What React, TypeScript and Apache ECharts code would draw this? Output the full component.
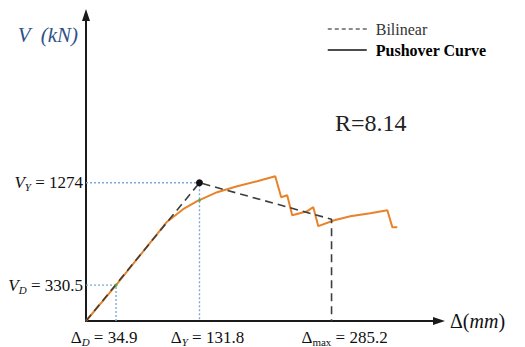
import React, { useEffect, useRef } from 'react';
import * as echarts from 'echarts';

// Pushover curve (displacement in mm, base shear in kN)
const dispX = [0, 34.9, 94.2, 112.8, 129.1, 152.3, 175.6, 198.8, 219.8, 226.7, 233.7, 239.5, 257.0, 264.0, 269.8, 288.4, 307.0, 330.2, 350.0, 355.8, 361.6];
const shearV = [0, 330.5, 915, 1030, 1104, 1187, 1242, 1288, 1334, 1141, 1159, 975, 1012, 1049, 874, 929, 966, 994, 1021, 865, 865];

// Bilinear idealisation
const deltaD = 34.9;
const deltaY = 131.8;
const deltaMax = 285.2;
const VD = 330.5;
const VY = 1274;
const VEnd = 938;
const Rfactor = 8.14;

// small markers where the curve crosses the guides
const markerX = [34.9, 131.8];
const markerV = [330.5, 1112];

const FONT = '"Liberation Serif", "DejaVu Serif", serif';

export default function App() {
  const ref = useRef<HTMLDivElement>(null);
  useEffect(() => {
    document.body.style.margin = '0';
    if (!ref.current) return;
    const chart = echarts.init(ref.current, undefined, { renderer: 'svg' });

    const near = (a: number, b: number) => Math.abs(a - b) < 1e-6;
    const xFmt = (v: number) => {
      if (near(v, deltaD)) return `{m|Δ}{si|D}{m| = ${deltaD}}{sa|\u00a0}`;
      if (near(v, deltaY)) return `{sb|\u00a0}{m|Δ}{si|Y}{m| = ${deltaY}}`;
      if (near(v, deltaMax)) return `{sc|\u00a0}{m|Δ}{sr|max}{m| = ${deltaMax}}`;
      return '';
    };
    const yFmt = (v: number) => {
      if (near(v, VD)) return `{mi|V}{si|D}{m| = ${VD}}`;
      if (near(v, VY)) return `{mi|V}{si|Y}{m| = ${VY}}`;
      return '';
    };
    const rich = {
      m: { fontFamily: FONT, fontSize: 17, color: '#111', lineHeight: 20 },
      mi: { fontFamily: FONT, fontSize: 17, color: '#111', lineHeight: 20, fontStyle: 'italic' },
      si: { fontFamily: FONT, fontSize: 11, color: '#111', lineHeight: 8, verticalAlign: 'bottom', fontStyle: 'italic' },
      sr: { fontFamily: FONT, fontSize: 11, color: '#111', lineHeight: 8, verticalAlign: 'bottom' },
      sa: { width: 24, fontSize: 10 },
      sb: { width: 16, fontSize: 10 },
      sc: { width: 26, fontSize: 10 },
    };

    const axisLine = {
      show: true,
      symbol: ['none', 'triangle'],
      symbolSize: [8, 12],
      lineStyle: { color: '#1a1a1a', width: 2 },
    };
    const hiddenSymbol = { color: 'rgba(0,0,0,0)', borderColor: 'rgba(0,0,0,0)', borderWidth: 0, opacity: 0 };

    chart.setOption({
      animation: false,
      title: {
        text: `R=${Rfactor}`,
        left: 335,
        top: 111,
        padding: 0,
        textStyle: { fontFamily: FONT, fontSize: 24, fontWeight: 'normal', color: '#222' },
      },
      legend: {
        orient: 'vertical',
        left: 327,
        top: 21,
        padding: 0,
        itemWidth: 39,
        itemHeight: 14,
        itemGap: 5,
        textStyle: { fontFamily: FONT, fontSize: 16, color: '#333', lineHeight: 16, padding: [0, 0, 0, 4] },
        data: [
          { name: 'Bilinear', lineStyle: { color: '#666', type: [4, 3], width: 1.5 }, itemStyle: hiddenSymbol },
          {
            name: 'Pushover Curve',
            lineStyle: { color: '#111', type: 'solid', width: 1.5 },
            itemStyle: hiddenSymbol,
            textStyle: { fontWeight: 'bold', color: '#000' },
          },
        ],
      },
      grid: { left: 86, right: 86, top: 15, bottom: 25 },
      xAxis: {
        type: 'value',
        min: 0,
        max: 410,
        axisLine,
        axisTick: { show: false },
        splitLine: { show: false },
        axisLabel: {
          customValues: [deltaD, deltaY, deltaMax],
          formatter: xFmt,
          rich,
          margin: 6,
        },
        name: '{a|Δ(}{b|mm}{a|)}',
        nameLocation: 'end',
        nameGap: 11,
        nameTextStyle: {
          rich: {
            a: { fontFamily: FONT, fontSize: 20, color: '#111' },
            b: { fontFamily: FONT, fontSize: 20, color: '#111', fontStyle: 'italic' },
          },
        },
      },
      yAxis: {
        type: 'value',
        min: 0,
        max: 2820,
        axisLine,
        axisTick: { show: false },
        splitLine: { show: false },
        axisLabel: {
          customValues: [VD, VY],
          formatter: yFmt,
          rich,
          margin: 3,
        },
        name: 'V  (kN)',
        nameLocation: 'end',
        nameGap: -9,
        nameTextStyle: {
          fontFamily: FONT,
          fontSize: 21,
          fontStyle: 'italic',
          color: '#2f5189',
          align: 'right',
          verticalAlign: 'top',
          padding: [0, 8, 0, 0],
        },
      },
      series: [
        {
          type: 'line',
          name: 'guideY',
          silent: true,
          symbol: 'none',
          z: 1,
          data: [[0, VY], [deltaY, VY], [deltaY, 0]],
          lineStyle: { color: '#7fa7dc', type: [2, 2], width: 1.4 },
        },
        {
          type: 'line',
          name: 'guideD',
          silent: true,
          symbol: 'none',
          z: 1,
          data: [[0, VD], [deltaD, VD], [deltaD, 0]],
          lineStyle: { color: '#7fa7dc', type: [2, 2], width: 1.4 },
        },
        {
          type: 'line',
          name: 'Pushover Curve',
          symbol: 'none',
          z: 2,
          color: '#E8832A',
          data: dispX.map((x, i) => [x, shearV[i]]),
          lineStyle: { color: '#E8832A', width: 2 },
        },
        {
          type: 'line',
          name: 'Bilinear',
          symbol: 'none',
          showSymbol: true,
          z: 3,
          color: '#3d3d3d',
          data: [
            [0, 0],
            { value: [deltaY, VY], symbol: 'circle', symbolSize: 7, itemStyle: { color: '#111' } },
            [deltaMax, VEnd],
            [deltaMax, 0],
          ],
          lineStyle: { color: '#3d3d3d', type: [8, 5], width: 1.6 },
        },
        {
          type: 'scatter',
          name: 'markers',
          silent: true,
          z: 4,
          symbolSize: 3,
          itemStyle: { color: '#3cb043' },
          data: markerX.map((x, i) => [x, markerV[i]]),
        },
      ],
    });
    return () => chart.dispose();
  }, []);
  return <div ref={ref} style={{ width: 525, height: 347 }} />;
}
